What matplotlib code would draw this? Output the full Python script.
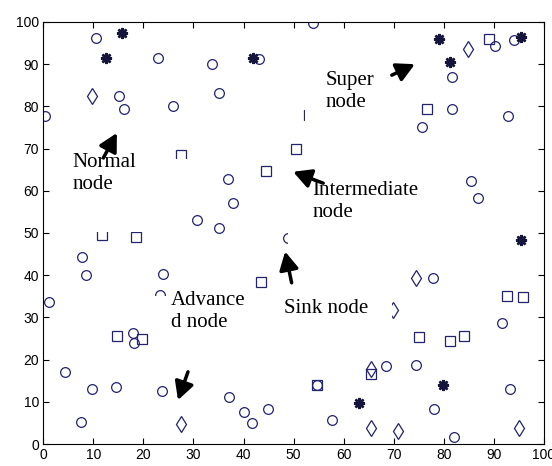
"""
센서 네트워크 노드 배치도 (Normal / Advance / Intermediate / Super / Sink)
"""

import matplotlib.pyplot as plt
from matplotlib.patches import Rectangle

# 노드 좌표
normal_x = [10.5, 23.0, 15.2, 16.2, 26.0, 0.3, 53.8, 33.6, 43.1, 35.1,
            90.3, 94.1, 81.6, 81.6, 75.7, 92.9, 30.8, 7.8, 8.5, 24.0,
            23.4, 1.1, 36.8, 37.8, 35.1, 48.9, 85.4, 86.9, 77.9, 18.0,
            18.2, 4.3, 9.7, 14.5, 23.8, 7.5, 37.1, 40.0, 41.6, 44.9,
            54.6, 57.6, 91.7, 68.4, 74.4, 93.3, 78.0, 82.1]
normal_y = [96.3, 91.5, 82.5, 79.5, 80.1, 77.7, 99.7, 90.0, 91.2, 83.1,
            94.4, 95.7, 87.0, 79.5, 75.2, 77.7, 53.1, 44.2, 40.0, 40.4,
            35.3, 33.7, 62.7, 57.0, 51.3, 48.9, 62.3, 58.2, 39.3, 26.4,
            23.9, 17.0, 13.0, 13.6, 12.6, 5.3, 11.2, 7.7, 4.9, 8.3,
            14.1, 5.8, 28.6, 18.5, 18.7, 13.0, 8.3, 1.7]

advance_x = [9.7, 84.9, 74.4, 27.6, 65.5, 65.4, 70.8, 95.0, 69.9]
advance_y = [82.5, 93.5, 39.4, 4.7, 17.8, 3.7, 3.2, 3.7, 31.8]

inter_x = [27.6, 50.5, 53.0, 89.1, 76.6, 11.8, 18.5, 44.5, 43.5, 92.7,
           95.9, 14.8, 19.8, 54.6, 65.5, 75.1, 81.2, 84.0]
inter_y = [68.5, 69.9, 78.0, 95.9, 79.5, 49.5, 49.1, 64.7, 38.3, 35.1,
           34.8, 25.7, 25.0, 14.1, 16.5, 25.4, 24.5, 25.6]

super_x = [15.7, 12.5, 41.9, 79.1, 95.5, 81.2, 95.5, 63.1, 79.9]
super_y = [97.3, 91.5, 91.4, 95.9, 96.5, 90.6, 48.3, 9.8, 14.1]

ticks = list(range(0, 101, 10))

NAVY = '#22226e'


def add_label(ax, text, xy, box, tail, head):
    """흰 배경 텍스트 상자 + 화살표"""
    x0, x1, y0, y1 = box
    ax.add_patch(Rectangle((x0, y0), x1 - x0, y1 - y0, facecolor='white',
                           edgecolor='none', zorder=5))
    ax.text(xy[0], xy[1], text, family='Liberation Serif', fontsize=15,
            va='baseline', ha='left', zorder=6)
    ax.annotate('', xy=head, xytext=tail,
                arrowprops=dict(arrowstyle='-|>,head_length=0.6,head_width=0.32',
                                color='black', lw=2.5, mutation_scale=18,
                                shrinkA=0, shrinkB=0),
                zorder=7)


def draw():
    fig = plt.figure(figsize=(5.52, 4.66), dpi=100)
    ax = fig.add_axes([0.0784, 0.0472, 0.9071, 0.9056])

    ax.plot(normal_x, normal_y, 'o', ms=7, mfc='none', mec=NAVY, mew=0.9)
    ax.plot(advance_x, advance_y, 'd', ms=8, mfc='none', mec=NAVY, mew=0.9)
    ax.plot(inter_x, inter_y, 's', ms=7, mfc='none', mec=NAVY, mew=0.9)
    ax.plot(super_x, super_y, marker=(8, 2, 0), ls='none', ms=8,
            mec='#14143c', mew=1.8)

    ax.set_xlim(0, 100)
    ax.set_ylim(0, 100)
    ax.set_xticks(ticks)
    ax.set_yticks(ticks)
    ax.tick_params(direction='in', top=True, right=True, length=4,
                   labelsize=10, pad=3)
    for lab in ax.get_xticklabels() + ax.get_yticklabels():
        lab.set_family('Liberation Sans')

    add_label(ax, 'Super\nnode', (56.3, 79.9), (52.3, 69.6, 70.9, 86.3),
              (69.6, 87.4), (74.2, 90.0))
    add_label(ax, 'Normal\nnode', (5.9, 60.4), (2.7, 29.5, 50.2, 67.5),
              (12.0, 67.8), (14.7, 73.7))
    add_label(ax, 'Intermediate\nnode', (53.7, 53.8), (48.9, 75.3, 46.0, 60.2),
              (55.9, 61.8), (49.9, 64.5))
    add_label(ax, 'Sink node', (48.1, 31.0), (46.9, 69.7, 28.2, 36.5),
              (49.6, 38.2), (48.3, 45.6))
    add_label(ax, 'Advance\nd node', (25.5, 27.7), (22.3, 42.3, 19.4, 35.1),
              (28.9, 17.1), (26.9, 10.4))

    fig.savefig('out.png', dpi=100)


if __name__ == "__main__":
    draw()
